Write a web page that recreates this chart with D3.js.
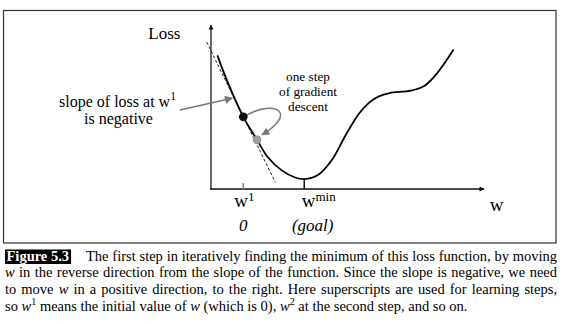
<!DOCTYPE html>
<html>
<head>
<meta charset="utf-8">
<script src="https://cdn.jsdelivr.net/npm/d3@7"></script>
<style>
  html, body { margin: 0; padding: 0; background: #fff; }
  svg { display: block; font-family: "Liberation Serif", "Times New Roman", Times, serif; }
</style>
</head>
<body>
<svg id="fig" width="564" height="324"></svg>
<script>
// Loss curve samples: weight w and the loss at that weight
const lossW = [-0.85, -0.5, 0, 0.45, 0.8, 1.25, 1.7, 2.0, 2.45, 2.9, 3.35, 3.8, 4.15, 4.45, 4.8, 5.5, 5.95, 6.4, 6.9];
const lossL = [8.15, 6.45, 4.4, 3.0, 1.95, 1.15, 0.7, 0.6, 0.85, 1.75, 3.25, 4.6, 5.3, 5.65, 5.85, 6.0, 6.3, 7.15, 8.5];

// One gradient step: starting weight w^1 and the weight after the step
const stepW = [0, 0.45];
const stepL = [4.4, 3.0];

// Tangent at w^1 (negative slope)
const tangentSlope = -3.8;
const tangentW = [-1.2, 1.05];

// Marked weights on the w axis
const tickW = [0, 2];
const tickSup = ["1", "min"];
const tickNotes = ["0", "(goal)"];

const axisNames = ["Loss", "w"];
const slopeLabel = ["slope of loss at w", "1", "is negative"];
const stepLabel = ["one step", "of gradient", "descent"];

const figureTag = "Figure 5.3";
// *text* = italic, ^text^ = superscript
const captionLines = [
  "The first step in iteratively finding the minimum of this loss function, by moving",
  "*w* in the reverse direction from the slope of the function. Since the slope is negative, we need",
  "to move *w* in a positive direction, to the right. Here superscripts are used for learning steps,",
  "so *w*^1^ means the initial value of *w* (which is 0), *w*^2^ at the second step, and so on."
];

const svg = d3.select("#fig");
const x = d3.scaleLinear().domain([-1.06, 7.9]).range([211, 484]);
const y = d3.scaleLinear().domain([0, 10]).range([189, 25]);

// frame around the plot
svg.append("rect")
  .attr("x", 3.5).attr("y", 10.5).attr("width", 552.5).attr("height", 232.5)
  .attr("fill", "none").attr("stroke", "#333").attr("stroke-width", 1.2);

const defs = svg.append("defs");
function head(id, color, len, wid) {
  defs.append("marker")
    .attr("id", id).attr("viewBox", "0 0 10 10")
    .attr("refX", 9).attr("refY", 5)
    .attr("markerWidth", len).attr("markerHeight", wid)
    .attr("markerUnits", "userSpaceOnUse").attr("orient", "auto")
    .append("path").attr("d", "M0,0L10,5L0,10Z").attr("fill", color);
}
head("axisHead", "#111", 8, 5);
head("grayHead", "#777", 10, 8);

// axes
const [x0, x1] = x.range();
const [yb, yt] = y.range();
svg.append("line")
  .attr("x1", x0).attr("y1", yb + 0.7).attr("x2", x0).attr("y2", yt)
  .attr("stroke", "#444").attr("stroke-width", 1.6)
  .attr("marker-end", "url(#axisHead)");
svg.append("line")
  .attr("x1", x0 - 0.8).attr("y1", yb).attr("x2", x1).attr("y2", yb)
  .attr("stroke", "#111").attr("stroke-width", 1.4)
  .attr("marker-end", "url(#axisHead)");

// tick marks at w^1 and w^min
const minL = d3.min(lossL);
svg.selectAll("line.tick").data(tickW).join("line")
  .attr("class", "tick")
  .attr("x1", d => x(d)).attr("x2", d => x(d))
  .attr("y1", yb)
  .attr("y2", (d, i) => i === 0 ? yb - 6 : y(minL))
  .attr("stroke", (d, i) => i === 0 ? "#888" : "#111")
  .attr("stroke-width", 1.5);

// tangent line (dashed)
const tangent = w => stepL[0] + tangentSlope * (w - stepW[0]);
svg.append("line")
  .attr("x1", x(tangentW[0])).attr("y1", y(tangent(tangentW[0])))
  .attr("x2", x(tangentW[1])).attr("y2", y(tangent(tangentW[1])))
  .attr("stroke", "#222").attr("stroke-width", 1)
  .attr("stroke-dasharray", "3,2");

// loss curve
const pts = lossW.map((w, i) => [w, lossL[i]]);
svg.append("path")
  .datum(pts)
  .attr("d", d3.line().x(d => x(d[0])).y(d => y(d[1])).curve(d3.curveCatmullRom.alpha(0.5)))
  .attr("fill", "none").attr("stroke", "#000").attr("stroke-width", 1.8);

// curved arrow showing the gradient step
const pA = [x(stepW[0]), y(stepL[0])];
const pB = [x(stepW[1]), y(stepL[1])];
const stepPath = d3.path();
stepPath.moveTo(pA[0] + 2, pA[1] - 1);
stepPath.bezierCurveTo(pA[0] + 32, pA[1] - 18, pA[0] + 55, pA[1] - 4, pB[0] + 5, pB[1] - 5);
svg.append("path")
  .attr("d", stepPath.toString())
  .attr("fill", "none").attr("stroke", "#777").attr("stroke-width", 1.5)
  .attr("marker-end", "url(#grayHead)");

// dots at w^1 and after one step
svg.append("circle").attr("cx", pA[0]).attr("cy", pA[1]).attr("r", 4.4).attr("fill", "#111");
svg.append("circle").attr("cx", pB[0]).attr("cy", pB[1]).attr("r", 4)
  .attr("fill", "#a0a0a0").attr("stroke", "#888").attr("stroke-width", 0.6);

// axis names
svg.append("text").attr("x", 148.3).attr("y", 39).attr("font-size", 17).text(axisNames[0]);
svg.append("text").attr("x", 496.7).attr("y", 210.7).attr("font-size", 19)
  .attr("text-anchor", "middle").text(axisNames[1]);

// tick labels
const tickDx = [1, 14.5];
const noteDx = [0, 8.5];
tickW.forEach((w, i) => {
  const t = svg.append("text").attr("x", x(w) + tickDx[i]).attr("y", 207)
    .attr("text-anchor", "middle").attr("font-size", 19);
  t.append("tspan").text("w");
  t.append("tspan").attr("font-size", 13).attr("dy", -6).text(tickSup[i]);
  svg.append("text").attr("x", x(w) + noteDx[i]).attr("y", 231)
    .attr("text-anchor", "middle").attr("font-size", 17).attr("font-style", "italic")
    .text(tickNotes[i]);
});

// slope annotation
const sl = svg.append("text").attr("x", 117.5).attr("y", 106.6)
  .attr("text-anchor", "middle").attr("font-size", 16);
sl.append("tspan").text(slopeLabel[0]);
sl.append("tspan").attr("font-size", 11.5).attr("dy", -7).text(slopeLabel[1]);
svg.append("text").attr("x", 118.5).attr("y", 124.4)
  .attr("text-anchor", "middle").attr("font-size", 16).text(slopeLabel[2]);

const wTip = -0.3;
svg.append("line")
  .attr("x1", 180).attr("y1", 110)
  .attr("x2", x(wTip) - 2).attr("y2", y(tangent(wTip)))
  .attr("stroke", "#777").attr("stroke-width", 1.5)
  .attr("marker-end", "url(#grayHead)");

// step annotation
svg.append("text").attr("font-size", 13.3).attr("text-anchor", "middle")
  .selectAll("tspan").data(stepLabel).join("tspan")
  .attr("x", 308).attr("y", (d, i) => 80.7 + i * 15).text(d => d);

// caption
const capSize = 14.5;
const tagG = svg.append("g");
const tagText = tagG.append("text").attr("x", 6.5).attr("y", 260.5)
  .attr("font-size", capSize).attr("font-weight", "bold").attr("fill", "#fff")
  .text(figureTag);
const tagW = tagText.node().getComputedTextLength();
tagG.insert("rect", "text").attr("x", 5).attr("y", 249.5)
  .attr("width", tagW + 3.5).attr("height", 14.5).attr("fill", "#000");

function parseWord(word) {
  const segs = [];
  word.replace(/\*([^*]+)\*|\^([^^]+)\^|([^*^]+)/g, (m, it, sup, plain) => {
    if (it) segs.push({ t: it, kind: "i" });
    else if (sup) segs.push({ t: sup, kind: "sup" });
    else segs.push({ t: plain, kind: "n" });
    return m;
  });
  return segs;
}

const capG = svg.append("g").attr("font-size", capSize).attr("fill", "#000");
captionLines.forEach((line, li) => {
  const left = li === 0 ? 86 : 5;
  const right = 557;
  const base = 260.5 + li * 16.8;
  const words = line.split(" ").map(w => {
    const t = capG.append("text").attr("y", base);
    parseWord(w).forEach((s, si, arr) => {
      const ts = t.append("tspan").text(s.t);
      if (s.kind === "i") ts.attr("font-style", "italic");
      if (s.kind === "sup") ts.attr("font-size", capSize * 0.7).attr("dy", -6);
      if (si > 0 && arr[si - 1].kind === "sup" && s.kind !== "sup") ts.attr("dy", 6);
    });
    return { sel: t, w: t.node().getComputedTextLength() };
  });
  const total = d3.sum(words, d => d.w);
  const justify = li < captionLines.length - 1;
  const gap = justify ? (right - left - total) / (words.length - 1) : capSize * 0.25;
  let cx = left;
  words.forEach(d => { d.sel.attr("x", cx); cx += d.w + gap; });
});
</script>
</body>
</html>
